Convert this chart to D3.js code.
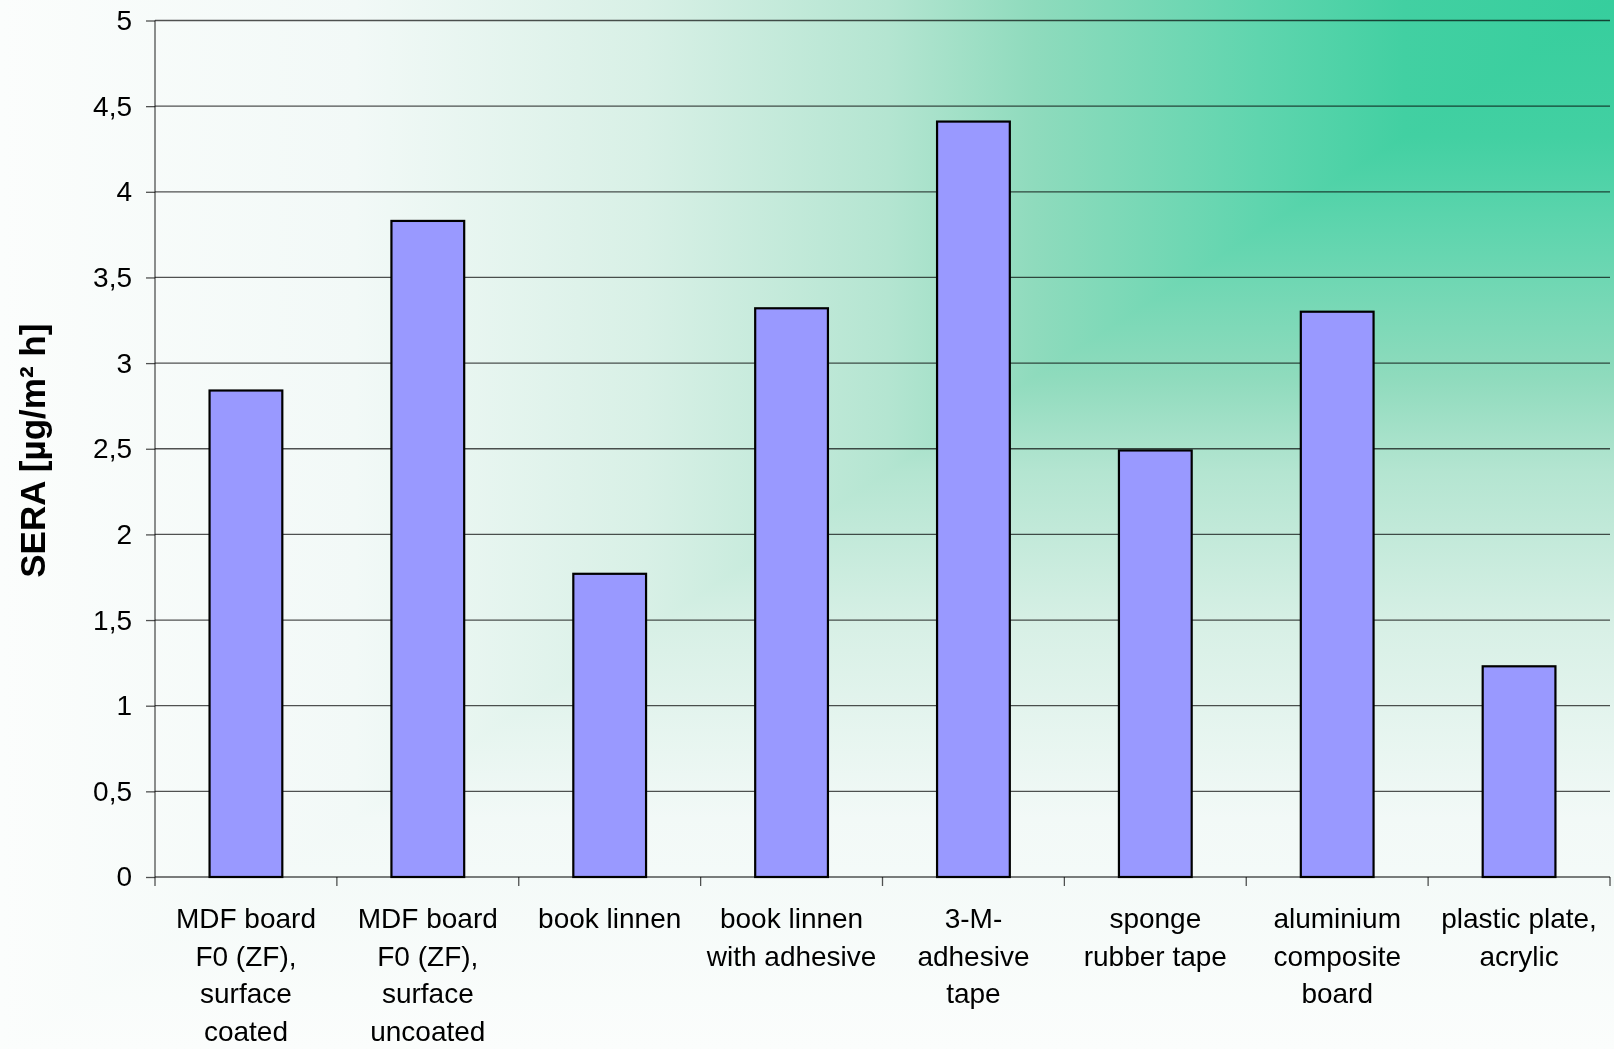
<!DOCTYPE html>
<html>
<head>
<meta charset="utf-8">
<script src="https://cdn.jsdelivr.net/npm/d3@7"></script>
<style>
  body { margin: 0; background: #fff; }
  svg text { font-family: "Liberation Sans", Arial, sans-serif; fill: #000; }
</style>
</head>
<body>
<svg id="chart"></svg>
<script>
// SERA per material — single series bar chart
const categories = [
    "MDF board\nF0 (ZF),\nsurface\ncoated",
    "MDF board\nF0 (ZF),\nsurface\nuncoated",
    "book linnen",
    "book linnen\nwith adhesive",
    "3-M-\nadhesive\ntape",
    "sponge\nrubber tape",
    "aluminium\ncomposite\nboard",
    "plastic plate,\nacrylic"
];
const values = [2.84, 3.83, 1.77, 3.32, 4.41, 2.49, 3.30, 1.23];
const yTicks = [0, 0.5, 1, 1.5, 2, 2.5, 3, 3.5, 4, 4.5, 5];
const yTitle = "SERA [µg/m² h]";

// background corner gradient (t = 0 at top-right corner)
const bgStops = [
    [0, "#36ce9d"], [0.13, "#42d0a2"], [0.22, "#5fd5ae"], [0.36, "#8fdbbd"],
    [0.45, "#b4e5d1"], [0.6, "#d8f0e6"], [0.78, "#f2f9f7"], [1, "#fbfdfc"]
];

const W = 1614, H = 1049;
const margin = { top: 20.5, right: 4, bottom: 172, left: 155 };
const w = W - margin.left - margin.right;
const h = H - margin.top - margin.bottom;

const svg = d3.select("#chart").attr("width", W).attr("height", H);
const defs = svg.append("defs");

// horizontal: right edge = corner colour; vertical: top edge = corner colour.
// lighten-blend of both gives a rectangular "from corner" fill
function grad(id, x1, y1, x2, y2) {
    const g = defs.append("linearGradient").attr("id", id)
        .attr("x1", x1).attr("y1", y1).attr("x2", x2).attr("y2", y2);
    bgStops.forEach(s => g.append("stop").attr("offset", s[0]).attr("stop-color", s[1]));
}
grad("gx", 1, 0, 0, 0);
grad("gy", 0, 0, 0, 1);
svg.append("rect").attr("width", W).attr("height", H).attr("fill", "url(#gx)");
svg.append("rect").attr("width", W).attr("height", H).attr("fill", "url(#gy)")
    .style("mix-blend-mode", "lighten");

const g = svg.append("g").attr("transform", `translate(${margin.left},${margin.top})`);

const x = d3.scaleBand().domain(categories).range([0, w]).padding(0);
const y = d3.scaleLinear().domain([0, 5]).range([h, 0]);
const fmt = d3.formatLocale({ decimal: ",", thousands: ".", grouping: [3], currency: ["", "€"] }).format("~g");
const lineOp = 0.68;

// Grid
g.append("g").selectAll("line").data(yTicks.filter(d => d > 0)).join("line")
    .attr("x1", 0).attr("x2", w)
    .attr("y1", d => y(d)).attr("y2", d => y(d))
    .attr("stroke", "#000").attr("stroke-opacity", lineOp).attr("stroke-width", 1.3);

// Bars
const bw = x.bandwidth() * 0.4;
g.append("g").selectAll("rect").data(values).join("rect")
    .attr("x", (d, i) => x(categories[i]) + (x.bandwidth() - bw) / 2)
    .attr("y", d => y(d))
    .attr("width", bw)
    .attr("height", d => y(0) - y(d))
    .attr("fill", "#9999ff")
    .attr("stroke", "#000").attr("stroke-width", 2.2);

// Y axis
const yAxis = g.append("g")
    .call(d3.axisLeft(y).tickValues(yTicks).tickSize(9).tickPadding(14).tickFormat(fmt));
yAxis.select(".domain").attr("stroke", "#000").attr("stroke-opacity", lineOp).attr("stroke-width", 1.3)
    .attr("d", `M0,${h}V0`);
yAxis.selectAll(".tick line").attr("stroke", "#000").attr("stroke-opacity", lineOp).attr("stroke-width", 1.3);
yAxis.selectAll(".tick text").style("font-size", "28px").attr("fill", "#000");

// X axis: baseline, boundary ticks, wrapped labels
const xAxis = g.append("g").attr("transform", `translate(0,${h})`);
xAxis.append("line").attr("x1", 0).attr("x2", w)
    .attr("stroke", "#000").attr("stroke-opacity", lineOp).attr("stroke-width", 1.3);
const bounds = categories.map(c => x(c)).concat([w]);
xAxis.selectAll("line.tk").data(bounds).join("line").attr("class", "tk")
    .attr("x1", d => d).attr("x2", d => d).attr("y1", 0).attr("y2", 9)
    .attr("stroke", "#000").attr("stroke-opacity", lineOp).attr("stroke-width", 1.3);
categories.forEach(c => {
    const t = xAxis.append("text")
        .attr("x", x(c) + x.bandwidth() / 2).attr("y", 51)
        .attr("text-anchor", "middle").style("font-size", "28px");
    c.split("\n").forEach((line, i) => {
        t.append("tspan").attr("x", x(c) + x.bandwidth() / 2)
            .attr("dy", i === 0 ? 0 : 37.5).text(line);
    });
});

// Y title
svg.append("text")
    .attr("transform", `translate(45,${margin.top + h / 2 + 2}) rotate(-90)`)
    .attr("text-anchor", "middle")
    .style("font-size", "35px").style("font-weight", "700")
    .text(yTitle);
</script>
</body>
</html>
